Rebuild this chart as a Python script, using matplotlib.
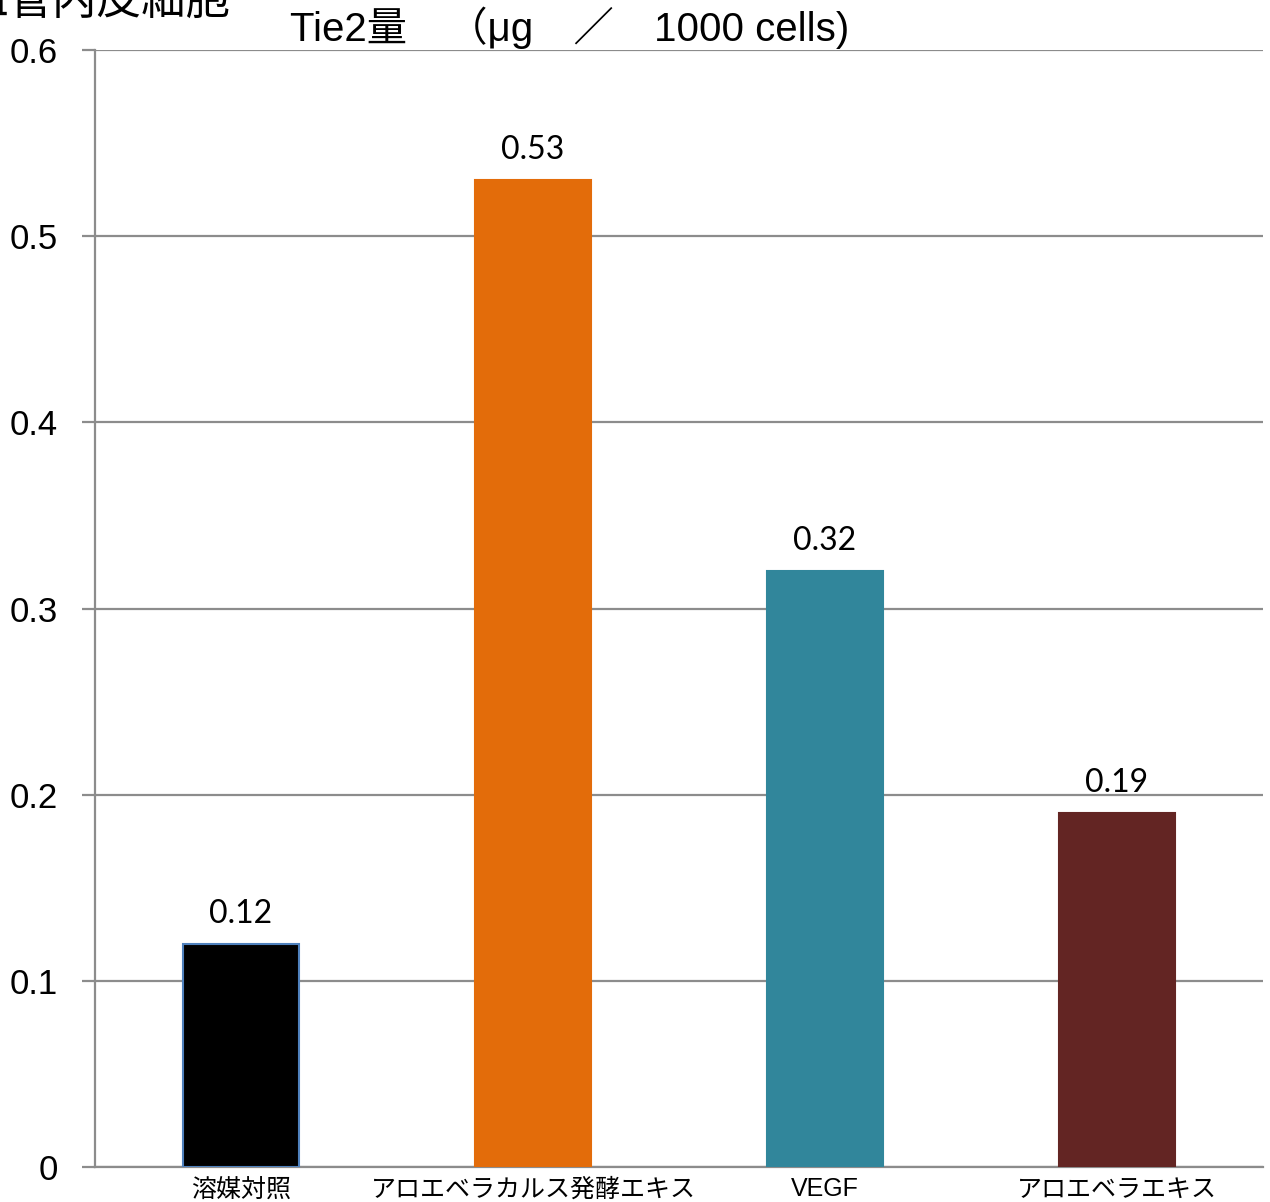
import numpy as np
import matplotlib.pyplot as plt

plt.rcParams['font.family'] = ['Liberation Sans', 'Noto Sans CJK JP', 'DejaVu Sans']

categories = ['溶媒対照', 'アロエベラカルス発酵エキス', 'VEGF', 'アロエベラエキス']
values = [0.12, 0.53, 0.32, 0.19]
colors = ['#000000', '#E36C0A', '#31869B', '#632523']
edges = ['#4F81BD', '#E36C0A', '#31869B', '#632523']
yticks = [0, 0.1, 0.2, 0.3, 0.4, 0.5, 0.6]

fig = plt.figure(figsize=(12.7, 12.02), dpi=100)
ax = fig.add_axes([95 / 1270, 1 - 1167 / 1202, (1263 - 95) / 1270, (1167 - 50) / 1202])

x = np.arange(len(categories))
bars = ax.bar(x, values, width=0.4, color=colors, edgecolor=edges, linewidth=1.5, zorder=3)

for xi, v in zip(x, values):
    ax.text(xi, v + 0.008, f'{v:.2f}', ha='center', va='bottom',
            fontsize=23, family=['Lato', 'DejaVu Sans'])

ax.set_xlim(-0.5, len(categories) - 0.5)
ax.set_ylim(0, 0.6)
ax.set_yticks(yticks)
ax.set_yticklabels([f'{t:g}' for t in yticks], fontsize=25)
ax.set_xticks(x)
ax.set_xticklabels(categories, fontsize=18)

ax.grid(axis='y', color='#8c8c8c', linewidth=1.6, zorder=0)
for s in ['top', 'right']:
    ax.spines[s].set_visible(False)
ax.spines['left'].set_color('#8c8c8c')
ax.spines['left'].set_linewidth(1.6)
ax.spines['bottom'].set_color('#8c8c8c')
ax.spines['bottom'].set_linewidth(1.6)
ax.tick_params(axis='y', length=9.5, width=1.6, color='#8c8c8c', pad=17)
ax.tick_params(axis='x', length=0, pad=7.5)

fig.text(290 / 1270, 1 - 28 / 1202, 'Tie2量　（μg　／　1000 cells)', fontsize=29,
         ha='left', va='center')
fig.text(-37 / 1270, 1 - 14 / 1202, '血管内皮細胞', fontsize=32, ha='left', va='baseline',
         family=['Noto Sans CJK JP'])

fig.savefig('out.png', dpi=100)
